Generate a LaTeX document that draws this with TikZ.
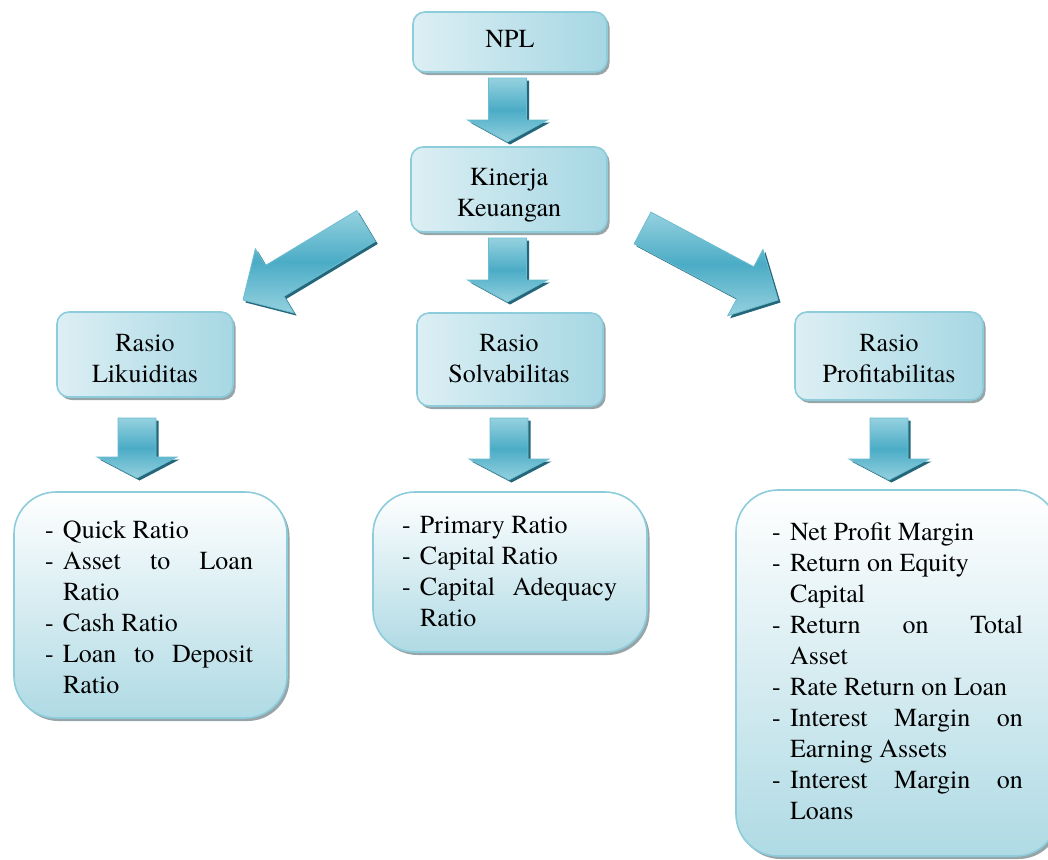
\documentclass[tikz,border=0pt]{standalone}
\usepackage{fontspec}
\setmainfont{TeX Gyre Termes}
\usetikzlibrary{calc,shadows}
\definecolor{boxedge}{HTML}{8DCCDB}
\definecolor{toplight}{HTML}{DCEFF4}
\definecolor{topdark}{HTML}{A6D7E3}
\definecolor{botdark}{HTML}{AFDAE4}
\definecolor{arrmid}{HTML}{4BACC6}
\definecolor{arrlight}{HTML}{95D1DF}
\definecolor{arredge}{HTML}{6CBDD1}
\definecolor{arrshadow}{HTML}{25677A}
\definecolor{boxshadow}{HTML}{97A4A8}
\tikzset{
  headbox/.style={rectangle, rounded corners=12pt, draw=boxedge, line width=1.6pt,
    left color=toplight, right color=topdark, inner sep=0pt,
    drop shadow={shadow xshift=2.5pt, shadow yshift=-3pt, fill=boxshadow, opacity=1}},
  listbox/.style={rectangle, rounded corners=42pt, draw=boxedge, line width=1.6pt,
    top color=white, bottom color=botdark, inner sep=0pt,
    drop shadow={shadow xshift=2.5pt, shadow yshift=-3pt, fill=boxshadow, opacity=1}},
  txt/.style={inner sep=0pt, outer sep=0pt, font=\rmfamily\fontsize{26}{31}\selectfont},
  blockarrow/.style={draw=arredge, line width=0.8pt, top color=arrlight,
    bottom color=arrlight, middle color=arrmid,
    drop shadow={shadow xshift=2.5pt, shadow yshift=-2.5pt, fill=arrshadow, opacity=1}},
}
% #1 tail, #2 tip, #3 shaft half width, #4 head half width, #5 head length
\newcommand\blockarr[5]{%
  \coordinate (hb) at ($(#2)!#5!(#1)$);
  \path[blockarrow] ($(#1)!#3!90:(#2)$)
    -- ($(hb)!#3!-90:(#1)$)
    -- ($(hb)!#4!-90:(#1)$)
    -- (#2)
    -- ($(hb)!#4!90:(#1)$)
    -- ($(hb)!#3!90:(#1)$)
    -- ($(#1)!#3!-90:(#2)$)
    -- cycle;
}
\newcommand\dsh{\makebox[18pt][l]{-}}
\newcommand\ind{\hspace*{18pt}}
\begin{document}
\begin{tikzpicture}[x=1pt,y=-1pt]
\useasboundingbox (0,0) rectangle (1048,859);
\fill[white] (0,0) rectangle (1048,859);

% boxes
\node[headbox, minimum width=194pt, minimum height=60pt] (npl) at (510,42) {};
\node[headbox, minimum width=196pt, minimum height=85pt] (kin) at (509,189.5) {};
\node[headbox, minimum width=176pt, minimum height=85pt] (liq) at (145,354.5) {};
\node[headbox, minimum width=186pt, minimum height=93pt] (sol) at (510,359.5) {};
\node[headbox, minimum width=188pt, minimum height=88pt] (prof) at (889,356) {};
\node[listbox, minimum width=273pt, minimum height=226pt] (lbox) at (150.5,605) {};
\node[listbox, minimum width=274pt, minimum height=160pt] (mbox) at (510,572) {};
\node[listbox, minimum width=322pt, minimum height=366pt] (rbox) at (897,673) {};

% arrow end points
\coordinate (a1t) at (507.5,78);  \coordinate (a1h) at (507.5,142);
\coordinate (a2t) at (507.5,238); \coordinate (a2h) at (507.5,302);
\coordinate (alt) at (366,226);   \coordinate (alh) at (243,300);
\coordinate (art) at (642.5,228); \coordinate (arh) at (778,300);
\coordinate (b1t) at (137,418);   \coordinate (b1h) at (137,478);
\coordinate (b2t) at (509,418);   \coordinate (b2h) at (509,480);
\coordinate (b3t) at (889,418);   \coordinate (b3h) at (889,480);

\blockarr{a1t}{a1h}{19pt}{40pt}{22pt}
\blockarr{a2t}{a2h}{19pt}{40pt}{22pt}
\blockarr{alt}{alh}{18pt}{37.5pt}{37pt}
\blockarr{art}{arh}{18pt}{37.5pt}{37pt}
\blockarr{b1t}{b1h}{19pt}{40pt}{21pt}
\blockarr{b2t}{b2h}{19pt}{40pt}{21pt}
\blockarr{b3t}{b3h}{19pt}{40pt}{21pt}

% texts
\node[txt, anchor=base] (tnpl) at (510,48) {NPL};
\node[txt, anchor=base] (tkin) at (509,185) {\begin{tabular}[t]{@{}c@{}}Kinerja\\Keuangan\end{tabular}};
\node[txt, anchor=base] (tliq) at (145,351) {\begin{tabular}[t]{@{}c@{}}Rasio\\Likuiditas\end{tabular}};
\node[txt, anchor=base] (tsol) at (509,351) {\begin{tabular}[t]{@{}c@{}}Rasio\\Solvabilitas\end{tabular}};
\node[txt, anchor=base] (tprof) at (889,351) {\begin{tabular}[t]{@{}c@{}}Rasio\\Profitabilitas\end{tabular}};

\node[txt, anchor=base west] (tl) at (45,538) {\begin{tabular}[t]{@{}l@{}}
\dsh Quick Ratio\\
\dsh\makebox[190pt][l]{Asset\hfill to\hfill Loan}\\
\ind Ratio\\
\dsh Cash Ratio\\
\dsh\makebox[190pt][l]{Loan\hfill to\hfill Deposit}\\
\ind Ratio
\end{tabular}};

\node[txt, anchor=base west] (tm) at (402,533) {\begin{tabular}[t]{@{}l@{}}
\dsh Primary Ratio\\
\dsh Capital Ratio\\
\dsh\makebox[197pt][l]{Capital\hfill Adequacy}\\
\ind Ratio
\end{tabular}};

\node[txt, anchor=base west] (tr) at (772,540) {\begin{tabular}[t]{@{}l@{}}
\dsh Net Profit Margin\\
\dsh Return on Equity\\
\ind Capital\\
\dsh\makebox[233pt][l]{Return\hfill on\hfill Total}\\
\ind Asset\\
\dsh Rate Return on Loan\\
\dsh\makebox[233pt][l]{Interest\hfill Margin\hfill on}\\
\ind Earning Assets\\
\dsh\makebox[233pt][l]{Interest\hfill Margin\hfill on}\\
\ind Loans
\end{tabular}};
\end{tikzpicture}
\end{document}
